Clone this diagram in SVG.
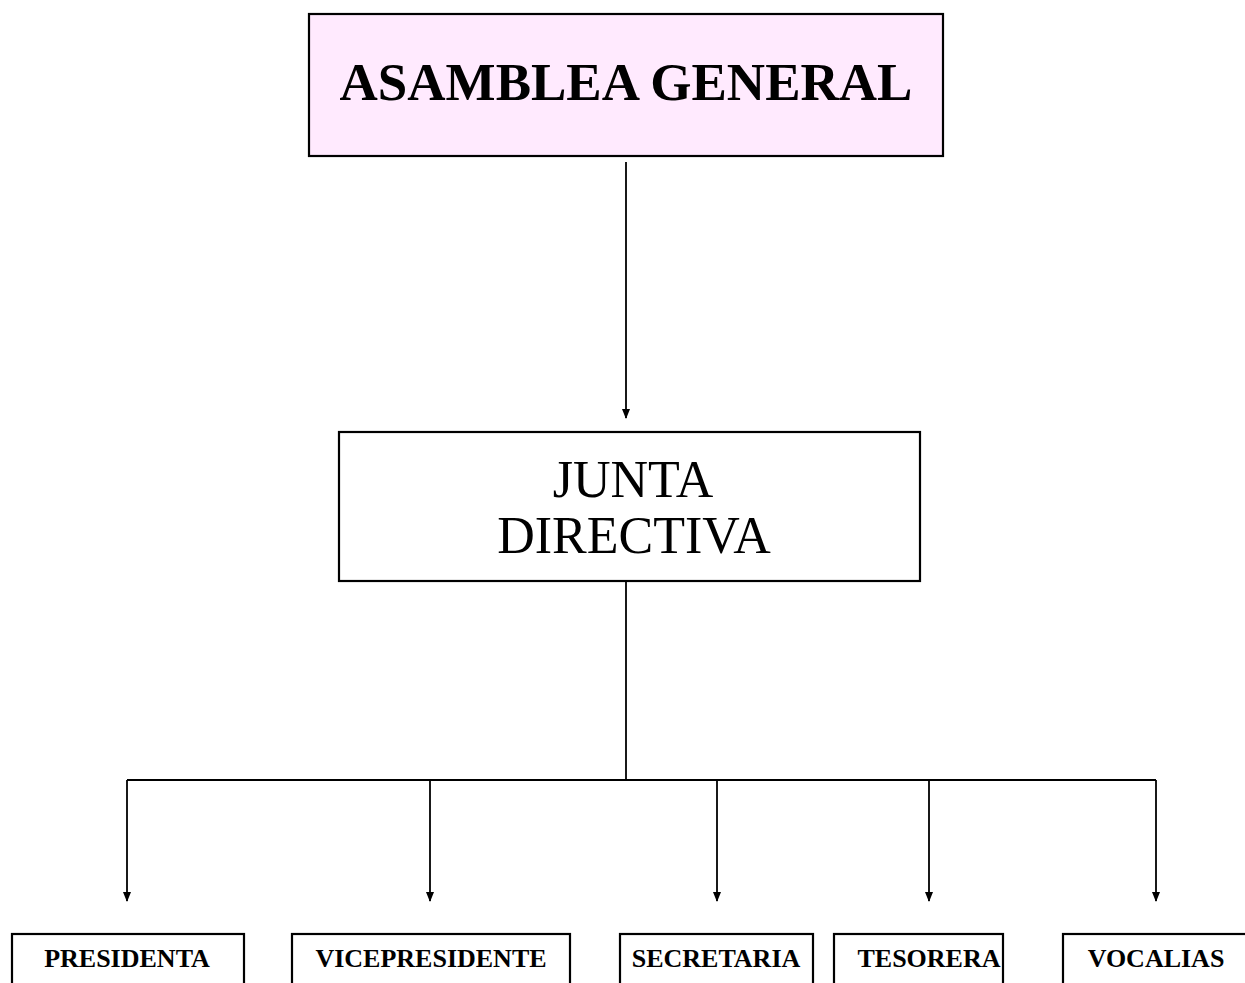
<svg xmlns="http://www.w3.org/2000/svg" width="1245" height="983" viewBox="0 0 1245 983">
<style>
.box{fill:#fff;stroke:#000;stroke-width:2.2}
.t{font-family:"Liberation Serif","Times New Roman",serif;fill:#000;text-anchor:middle}
.b{font-weight:bold}
.c{stroke:#000;stroke-width:1.8;fill:none}
</style>
<defs>
<marker id="ah" markerWidth="12" markerHeight="12" refX="9" refY="4" orient="auto" markerUnits="userSpaceOnUse">
<path d="M0,0 L10,4 L0,8 Z" fill="#000"/>
</marker>
</defs>
<rect width="1245" height="983" fill="#fff"/>
<g id="connectors">
<line class="c" x1="626" y1="162" x2="626" y2="418" marker-end="url(#ah)"/>
<line class="c" x1="626" y1="581" x2="626" y2="780"/>
<line class="c" x1="127" y1="780" x2="1156" y2="780"/>
<line class="c" x1="127" y1="780" x2="127" y2="901" marker-end="url(#ah)"/>
<line class="c" x1="430" y1="780" x2="430" y2="901" marker-end="url(#ah)"/>
<line class="c" x1="717" y1="780" x2="717" y2="901" marker-end="url(#ah)"/>
<line class="c" x1="929" y1="780" x2="929" y2="901" marker-end="url(#ah)"/>
<line class="c" x1="1156" y1="780" x2="1156" y2="901" marker-end="url(#ah)"/>
</g>
<g id="asamblea">
<rect class="box" x="309" y="14" width="634" height="142" style="fill:#ffeafe"/>
<text class="t b" x="626" y="100" font-size="53">ASAMBLEA GENERAL</text>
</g>
<g id="junta">
<rect class="box" x="339" y="432" width="581" height="149"/>
<text class="t" x="633" y="497" font-size="52">JUNTA</text>
<text class="t" x="634" y="553" font-size="52">DIRECTIVA</text>
</g>
<g id="presidenta">
<rect class="box" x="12" y="934" width="232" height="60"/>
<text class="t b" x="127" y="967" font-size="26">PRESIDENTA</text>
</g>
<g id="vicepresidente">
<rect class="box" x="292" y="934" width="278" height="60"/>
<text class="t b" x="431" y="967" font-size="26">VICEPRESIDENTE</text>
</g>
<g id="secretaria">
<rect class="box" x="620" y="934" width="193" height="60"/>
<text class="t b" x="716" y="967" font-size="26">SECRETARIA</text>
</g>
<g id="tesorera">
<rect class="box" x="834" y="934" width="169" height="60"/>
<text class="t b" x="929" y="967" font-size="26">TESORERA</text>
</g>
<g id="vocalias">
<rect class="box" x="1063" y="934" width="200" height="60"/>
<text class="t b" x="1156" y="967" font-size="26">VOCALIAS</text>
</g>
</svg>
